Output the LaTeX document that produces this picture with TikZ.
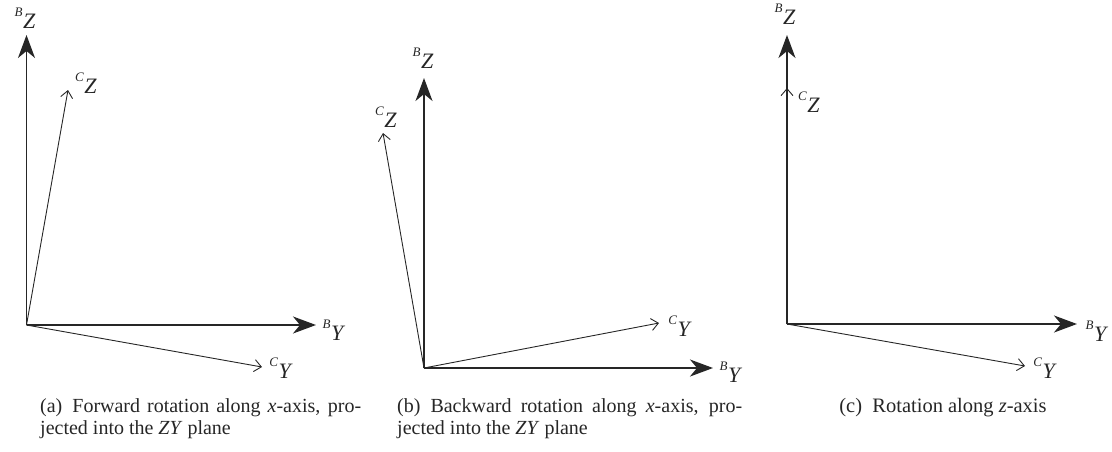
\documentclass[tikz,border=0pt]{standalone}
\usepackage{fontspec}
\setmainfont{Liberation Serif}
\usetikzlibrary{arrows.meta}
\newcommand{\axlab}[2]{\raisebox{0.55em}{\fontsize{13}{13}\selectfont\textit{#1}}\kern0.5pt\textit{#2}}
\begin{document}
\begin{tikzpicture}[x=1pt,y=-1pt,
  every node/.style={inner sep=0pt, color=black!85},
  bigaxis/.style={line width=1.9pt, color=black!85, -{Stealth[length=23pt,width=17pt,inset=7pt]}},
  thinaxis/.style={line width=0.9pt, color=black!85, -{Straight Barb[length=7pt,width=12pt,line width=0.9pt]}},
  lab/.style={anchor=center, font=\fontsize{22}{24}\selectfont},
  captext/.style={anchor=north west, align=justify, font=\fontsize{20}{22}\selectfont}]
\useasboundingbox (0,0) rectangle (1112,451);

% ---------- panel (a)
\coordinate (Oa) at (26.5,325);
\coordinate (BZa) at (26.5,35);
\coordinate (BYa) at (316,325);
\coordinate (CZa) at (68,90);
\coordinate (CYa) at (262,367);
\draw[bigaxis] (Oa) -- (BZa);
\draw[bigaxis] (Oa) -- (BYa);
\draw[thinaxis] (Oa) -- (CZa);
\draw[thinaxis] (Oa) -- (CYa);
\node[lab] (lBZa) at (25,18) {\axlab{B}{Z}};
\node[lab] (lBYa) at (334,330) {\axlab{B}{Y}};
\node[lab] (lCZa) at (86,83) {\axlab{C}{Z}};
\node[lab] (lCYa) at (281,368) {\axlab{C}{Y}};
\node[captext, text width=321pt] (capa) at (40,398)
  {(a)\enspace Forward rotation along \textit{x}-axis, pro-\linebreak jected into the \textit{ZY} plane};

% ---------- panel (b)
\coordinate (Ob) at (424,368);
\coordinate (BZb) at (424,78);
\coordinate (BYb) at (713,368);
\coordinate (CZb) at (383,133);
\coordinate (CYb) at (659,323);
\draw[bigaxis] (Ob) -- (BZb);
\draw[bigaxis] (Ob) -- (BYb);
\draw[thinaxis] (Ob) -- (CZb);
\draw[thinaxis] (Ob) -- (CYb);
\node[lab] (lBZb) at (423,58) {\axlab{B}{Z}};
\node[lab] (lBYb) at (731,372) {\axlab{B}{Y}};
\node[lab] (lCZb) at (386,117) {\axlab{C}{Z}};
\node[lab] (lCYb) at (680,326) {\axlab{C}{Y}};
\node[captext, text width=345pt] (capb) at (397,398)
  {(b)\enspace Backward rotation along \textit{x}-axis, pro-\linebreak jected into the \textit{ZY} plane};

% ---------- panel (c)
\coordinate (Oc) at (787,324);
\coordinate (BZc) at (787,35);
\coordinate (BYc) at (1077,324);
\coordinate (CZc) at (787,88);
\coordinate (CYc) at (1025,366);
\draw[bigaxis] (Oc) -- (BZc);
\draw[bigaxis] (Oc) -- (BYc);
\draw[thinaxis] (Oc) -- (CZc);
\draw[thinaxis] (Oc) -- (CYc);
\node[lab] (lBZc) at (785,14) {\axlab{B}{Z}};
\node[lab] (lBYc) at (1097,331) {\axlab{B}{Y}};
\node[lab] (lCZc) at (809,102) {\axlab{C}{Z}};
\node[lab] (lCYc) at (1045,368) {\axlab{C}{Y}};
\node[anchor=north, font=\fontsize{20.5}{22}\selectfont] (capc) at (943,398) {(c)\enspace Rotation along \textit{z}-axis};
\end{tikzpicture}
\end{document}
